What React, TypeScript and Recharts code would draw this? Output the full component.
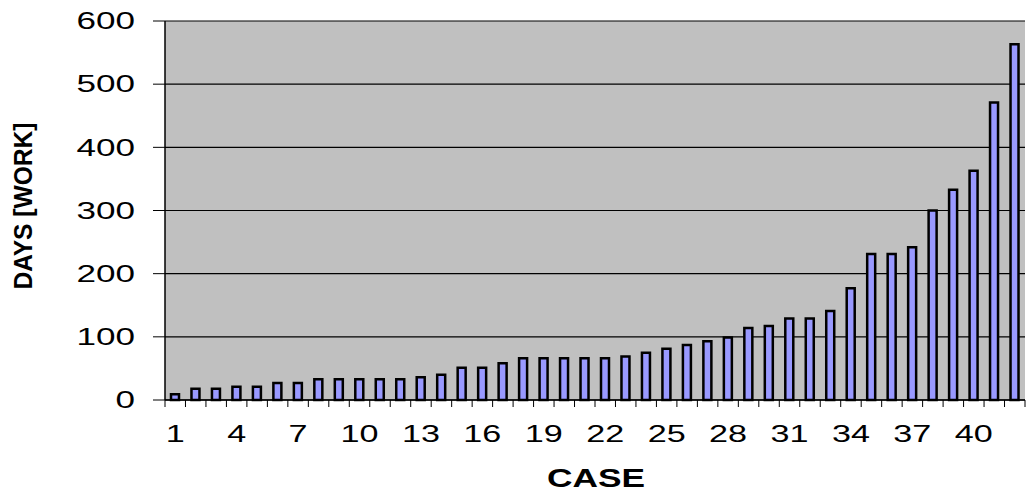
import { BarChart, Bar, XAxis, YAxis, CartesianGrid } from 'recharts';

const cases = Array.from({ length: 42 }, (_, i) => String(i + 1));

const days = [
  9, 18, 18, 21, 21, 27, 27, 33, 33, 33, 33, 33, 36, 40, 51, 51, 58, 66, 66, 66, 66,
  66, 69, 75, 81, 87, 93, 99, 114, 117, 129, 129, 141, 177, 231, 231, 242, 300, 333,
  363, 471, 563,
];

const yTicks = [0, 100, 200, 300, 400, 500, 600];

const data = cases.map((c, i) => ({ case: c, days: days[i] }));

const BAND = 860 / 42; // width of one category on the x axis
const FONT = '"Liberation Sans", Arial, sans-serif';

const YTick = ({ x, y, payload }: any) => {
  const s = String(payload.value);
  return (
    <text
      x={x}
      y={y}
      dy="0.36em"
      textAnchor="end"
      fontFamily={FONT}
      fontSize={23}
      fill="#000"
      textLength={s.length * 19.5}
      lengthAdjust="spacingAndGlyphs"
    >
      {s}
    </text>
  );
};

const XTick = ({ x, y, payload, index }: any) => {
  const s = String(payload.value);
  const left = x - BAND / 2;
  return (
    <g>
      <line x1={left} y1={y - 6} x2={left} y2={y + 1} stroke="#000" />
      {index === cases.length - 1 && (
        <line x1={x + BAND / 2} y1={y - 6} x2={x + BAND / 2} y2={y + 1} stroke="#000" />
      )}
      {index % 3 === 0 && (
        <text
          x={x}
          y={y + 36}
          textAnchor="middle"
          fontFamily={FONT}
          fontSize={24}
          fill="#000"
          textLength={s.length * 19}
          lengthAdjust="spacingAndGlyphs"
        >
          {s}
        </text>
      )}
    </g>
  );
};

export default function App() {
  return (
    <div style={{ position: 'absolute', left: 0, top: 0 }}>
      <BarChart
        width={1026}
        height={493}
        data={data}
        margin={{ top: 21, right: 1, left: 0, bottom: 0 }}
        barCategoryGap={0}
      >
        <CartesianGrid vertical={false} fill="#C0C0C0" fillOpacity={1} stroke="#000" strokeWidth={1.2} />
        <XAxis
          dataKey="case"
          interval={0}
          height={93}
          tickLine={false}
          tickSize={6}
          tickMargin={0}
          axisLine={{ stroke: '#000', strokeWidth: 1.5 }}
          tick={<XTick />}
          label={{
            content: () => (
              <text
                x={596}
                y={487}
                textAnchor="middle"
                fontFamily={FONT}
                fontWeight="bold"
                fontSize={25}
                fill="#000"
                textLength={98}
                lengthAdjust="spacingAndGlyphs"
              >
                CASE
              </text>
            ),
          }}
        />
        <YAxis
          domain={[0, 600]}
          ticks={yTicks}
          width={165}
          tickSize={12}
          tickMargin={18}
          tickLine={{ stroke: '#000' }}
          axisLine={{ stroke: '#000', strokeWidth: 1.5 }}
          tick={<YTick />}
          label={{
            content: () => (
              <text
                x={32}
                y={206}
                transform="rotate(-90 32 206)"
                textAnchor="middle"
                fontFamily={FONT}
                fontWeight="bold"
                fontSize={26}
                fill="#000"
                textLength={167}
                lengthAdjust="spacingAndGlyphs"
              >
                DAYS [WORK]
              </text>
            ),
          }}
        />
        <Bar
          dataKey="days"
          barSize={8}
          fill="#9999FF"
          stroke="#000"
          strokeWidth={2.5}
          isAnimationActive={false}
        />
      </BarChart>
    </div>
  );
}
